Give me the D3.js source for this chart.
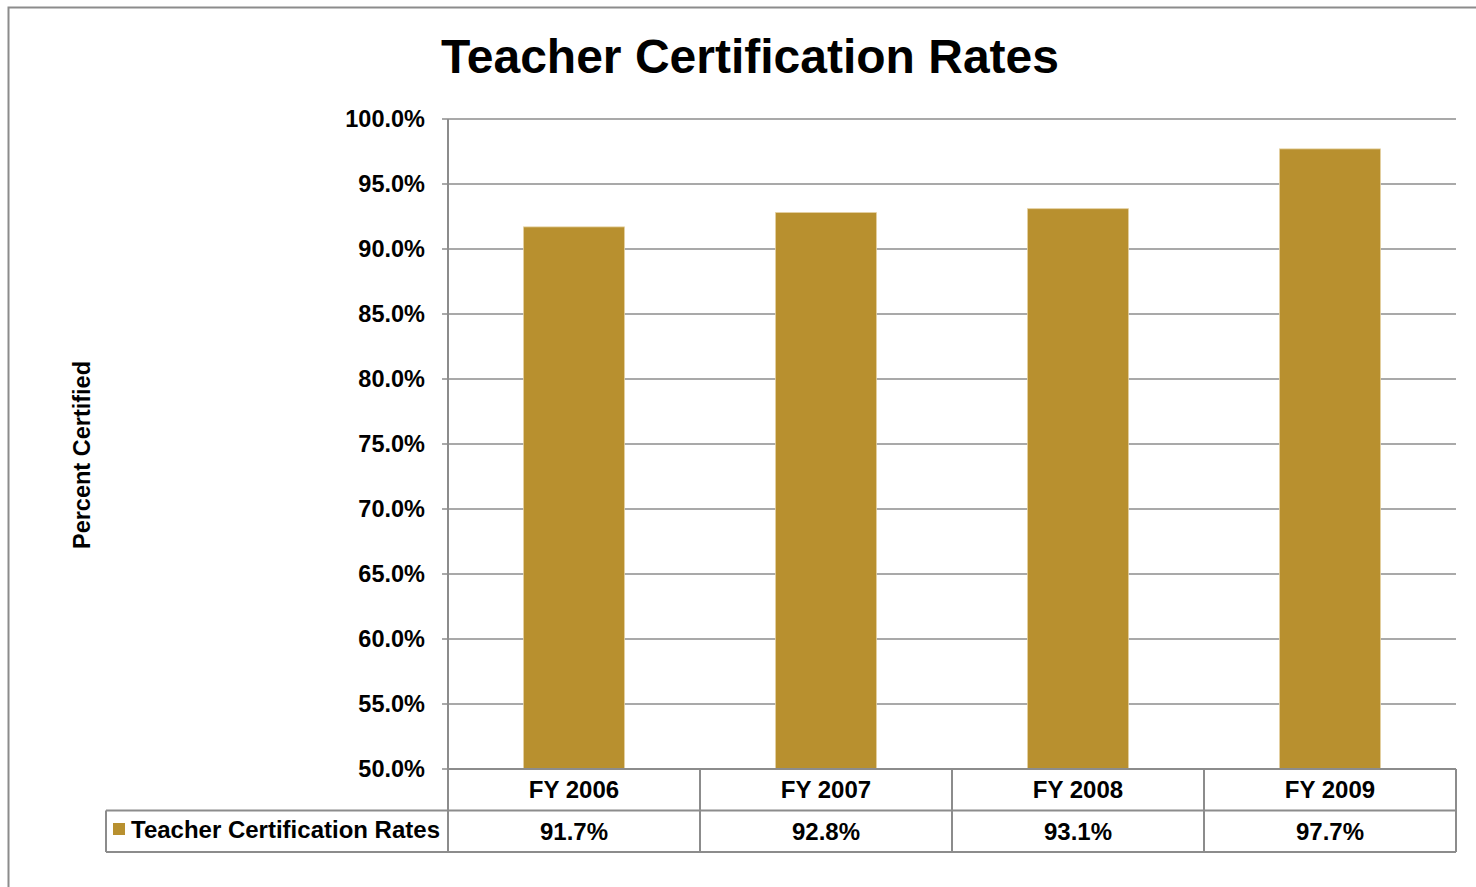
<!DOCTYPE html>
<html>
<head>
<meta charset="utf-8">
<script src="https://cdn.jsdelivr.net/npm/d3@7"></script>
<style>
  body { margin: 0; background: #fff; }
  svg { display: block; font-family: "Liberation Sans", Arial, sans-serif; }
  .tick-label { font-size: 23.5px; font-weight: bold; fill: #000; }
  .cell-text { font-size: 24px; font-weight: bold; fill: #000; }
</style>
</head>
<body>
<div id="chart"></div>
<script>
var categories = ["FY 2006", "FY 2007", "FY 2008", "FY 2009"];
var rates = [91.7, 92.8, 93.1, 97.7];
var seriesName = "Teacher Certification Rates";
var yTicks = [50, 55, 60, 65, 70, 75, 80, 85, 90, 95, 100];

var width = 1476, height = 887;
var plotLeft = 448, plotRight = 1456, plotTop = 119, plotBottom = 769;
var rowH = 41.5, gridColor = "#8c8c8c", barColor = "#b8902f";

var svg = d3.select("#chart").append("svg")
    .attr("width", width).attr("height", height);

// outer frame
svg.append("path")
    .attr("d", "M8.5," + height + " V7.5 H" + width)
    .attr("fill", "none").attr("stroke", "#8c8c8c").attr("stroke-width", 2);

var x = d3.scaleBand().domain(categories).range([plotLeft, plotRight]).paddingInner(0).paddingOuter(0);
var y = d3.scaleLinear().domain([50, 100]).range([plotBottom, plotTop]);

// gridlines + tick marks
svg.append("g").selectAll("line").data(yTicks).enter().append("line")
    .attr("x1", plotLeft - 6).attr("x2", plotRight)
    .attr("y1", function(d) { return y(d); }).attr("y2", function(d) { return y(d); })
    .attr("stroke", gridColor).attr("stroke-width", 1.5);

svg.append("g").selectAll("text").data(yTicks).enter().append("text")
    .attr("class", "tick-label")
    .attr("x", plotLeft - 23).attr("y", function(d) { return y(d); })
    .attr("dy", "0.35em").attr("text-anchor", "end")
    .text(function(d) { return d.toFixed(1) + "%"; });

// bars
var barW = x.bandwidth() * 0.4;
svg.append("g").selectAll("rect").data(rates).enter().append("rect")
    .attr("x", function(d, i) { return x(categories[i]) + (x.bandwidth() - barW) / 2; })
    .attr("y", function(d) { return y(d); })
    .attr("width", barW)
    .attr("height", function(d) { return y(50) - y(d); })
    .attr("fill", barColor)
    .attr("stroke", "#e3cf9e").attr("stroke-width", 0.8);

// data table
var t = svg.append("g").attr("stroke", gridColor).attr("stroke-width", 2).attr("fill", "none");
t.append("line").attr("x1", plotLeft).attr("x2", plotLeft).attr("y1", plotTop).attr("y2", plotBottom + 2 * rowH);
t.append("line").attr("x1", plotLeft).attr("x2", plotRight).attr("y1", plotBottom).attr("y2", plotBottom);
t.append("line").attr("x1", 106).attr("x2", plotRight).attr("y1", plotBottom + rowH).attr("y2", plotBottom + rowH);
t.append("line").attr("x1", 106).attr("x2", plotRight).attr("y1", plotBottom + 2 * rowH).attr("y2", plotBottom + 2 * rowH);
t.append("line").attr("x1", 106).attr("x2", 106).attr("y1", plotBottom + rowH).attr("y2", plotBottom + 2 * rowH);
t.selectAll(".div").data(categories).enter().append("line")
    .attr("x1", function(d) { return x(d) + x.bandwidth(); })
    .attr("x2", function(d) { return x(d) + x.bandwidth(); })
    .attr("y1", plotBottom).attr("y2", plotBottom + 2 * rowH);

svg.append("g").selectAll("text").data(categories).enter().append("text")
    .attr("class", "cell-text")
    .attr("x", function(d) { return x(d) + x.bandwidth() / 2; })
    .attr("y", plotBottom + rowH / 2).attr("dy", "0.35em").attr("text-anchor", "middle")
    .text(function(d) { return d; });

svg.append("g").selectAll("text").data(rates).enter().append("text")
    .attr("class", "cell-text")
    .attr("x", function(d, i) { return x(categories[i]) + x.bandwidth() / 2; })
    .attr("y", plotBottom + rowH * 1.5).attr("dy", "0.35em").attr("text-anchor", "middle")
    .text(function(d) { return d.toFixed(1) + "%"; });

// legend key
svg.append("rect").attr("x", 113).attr("y", 823).attr("width", 12).attr("height", 12).attr("fill", barColor);
svg.append("text").attr("class", "cell-text")
    .attr("x", 131).attr("y", plotBottom + rowH * 1.5 - 2).attr("dy", "0.35em")
    .text(seriesName);

// title
svg.append("text")
    .attr("x", 750).attr("y", 73).attr("text-anchor", "middle")
    .attr("font-size", 48).attr("font-weight", "bold")
    .text("Teacher Certification Rates");

// y axis title
svg.append("text")
    .attr("transform", "translate(90,455) rotate(-90)")
    .attr("text-anchor", "middle").attr("font-size", 23.5).attr("font-weight", "bold")
    .text("Percent Certified");
</script>
</body>
</html>
